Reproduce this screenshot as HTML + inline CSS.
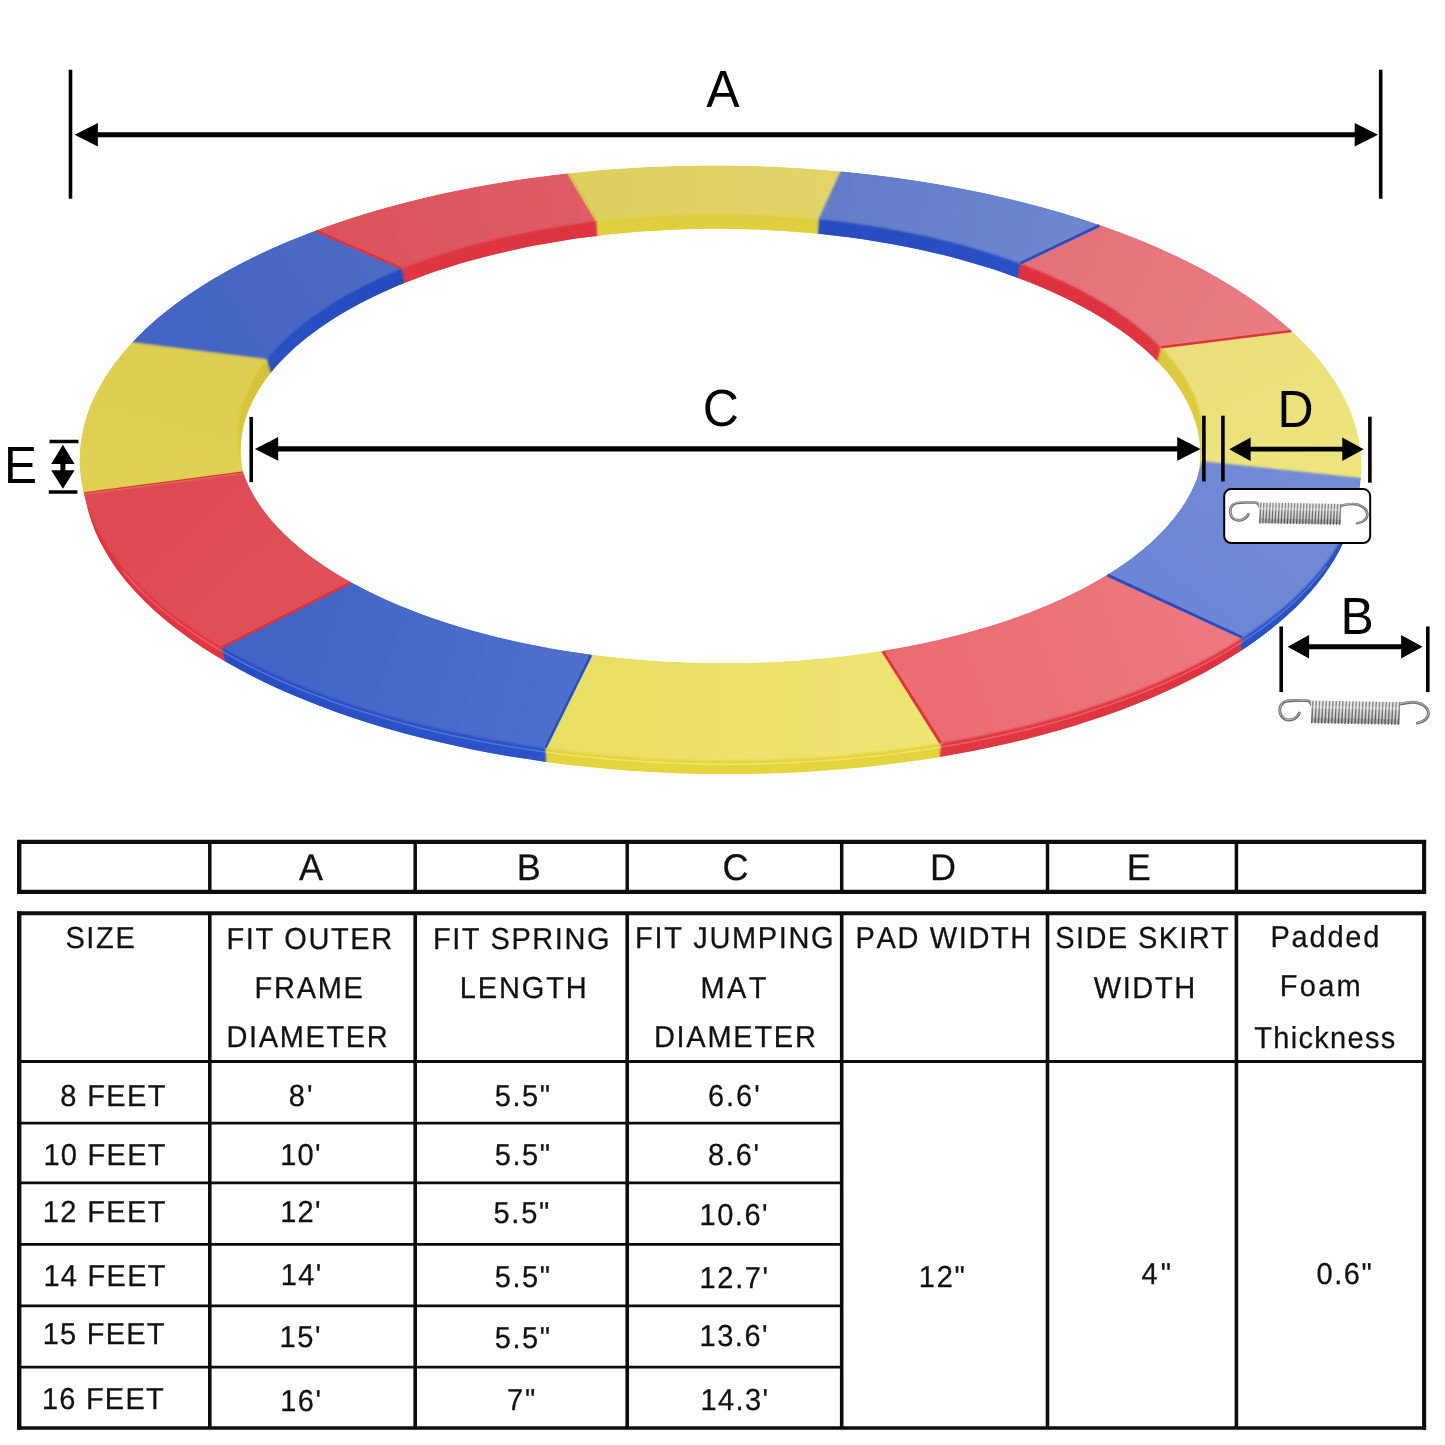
<!DOCTYPE html>
<html><head><meta charset="utf-8"><title>Trampoline pad size chart</title>
<style>
html,body{margin:0;padding:0;background:#fff}
body{width:1445px;height:1445px;position:relative;overflow:hidden;font-family:"Liberation Sans",sans-serif;color:#000}
.dia{position:absolute;left:0;top:0}
.tbl{position:absolute;left:0;top:0;width:1445px;height:1445px;will-change:transform}
.t{position:absolute;white-space:nowrap;color:#111;font-kerning:none;text-rendering:geometricPrecision;-webkit-text-stroke:0.25px #111}
.s29{font-size:29px;line-height:29px;transform:scaleY(1.045);transform-origin:0 23px}
.s36{font-size:36px;line-height:36px;transform:scaleY(1.03);transform-origin:0 30px}
</style></head><body>
<svg class="dia" width="1445" height="1445" viewBox="0 0 1445 1445" font-family="Liberation Sans, sans-serif" fill="#000">
<defs><linearGradient id="g0" gradientUnits="userSpaceOnUse" x1="582.2" y1="197.4" x2="829.8" y2="195.4"><stop offset="0" stop-color="#ded05e"/><stop offset="1" stop-color="#e2d468"/></linearGradient><linearGradient id="w0" gradientUnits="userSpaceOnUse" x1="0" y1="155.4" x2="0" y2="257.4"><stop offset="0" stop-color="#d5c43e"/><stop offset="1" stop-color="#e4d53e"/></linearGradient><linearGradient id="g1" gradientUnits="userSpaceOnUse" x1="829.8" y1="195.4" x2="1059.8" y2="244.4"><stop offset="0" stop-color="#637dca"/><stop offset="1" stop-color="#6d86ce"/></linearGradient><linearGradient id="w1" gradientUnits="userSpaceOnUse" x1="0" y1="155.4" x2="0" y2="304.4"><stop offset="0" stop-color="#2446ba"/><stop offset="1" stop-color="#2c54c8"/></linearGradient><linearGradient id="g2" gradientUnits="userSpaceOnUse" x1="1059.8" y1="244.4" x2="1226.1" y2="339.2"><stop offset="0" stop-color="#e5727b"/><stop offset="1" stop-color="#e97a82"/></linearGradient><linearGradient id="w2" gradientUnits="userSpaceOnUse" x1="0" y1="204.4" x2="0" y2="399.2"><stop offset="0" stop-color="#dd303c"/><stop offset="1" stop-color="#e03842"/></linearGradient><linearGradient id="g3" gradientUnits="userSpaceOnUse" x1="1226.1" y1="339.2" x2="1281.2" y2="469.9"><stop offset="0" stop-color="#eadf7a"/><stop offset="1" stop-color="#eee47e"/></linearGradient><linearGradient id="w3" gradientUnits="userSpaceOnUse" x1="0" y1="299.2" x2="0" y2="529.9"><stop offset="0" stop-color="#d5c43e"/><stop offset="1" stop-color="#e4d53e"/></linearGradient><linearGradient id="g4" gradientUnits="userSpaceOnUse" x1="1281.2" y1="469.9" x2="1175.1" y2="606.3"><stop offset="0" stop-color="#728bd5"/><stop offset="1" stop-color="#6b86d5"/></linearGradient><linearGradient id="w4" gradientUnits="userSpaceOnUse" x1="0" y1="429.9" x2="0" y2="666.3"><stop offset="0" stop-color="#2446ba"/><stop offset="1" stop-color="#2c54c8"/></linearGradient><linearGradient id="g5" gradientUnits="userSpaceOnUse" x1="1175.1" y1="606.3" x2="911.8" y2="697.1"><stop offset="0" stop-color="#ec777e"/><stop offset="1" stop-color="#eb6c73"/></linearGradient><linearGradient id="w5" gradientUnits="userSpaceOnUse" x1="0" y1="566.3" x2="0" y2="757.1"><stop offset="0" stop-color="#dd303c"/><stop offset="1" stop-color="#e03842"/></linearGradient><linearGradient id="g6" gradientUnits="userSpaceOnUse" x1="911.8" y1="697.1" x2="568.1" y2="701.4"><stop offset="0" stop-color="#eee473"/><stop offset="1" stop-color="#eade65"/></linearGradient><linearGradient id="w6" gradientUnits="userSpaceOnUse" x1="0" y1="657.1" x2="0" y2="761.4"><stop offset="0" stop-color="#d5c43e"/><stop offset="1" stop-color="#e4d53e"/></linearGradient><linearGradient id="g7" gradientUnits="userSpaceOnUse" x1="568.1" y1="701.4" x2="286.3" y2="614.7"><stop offset="0" stop-color="#4e6fcd"/><stop offset="1" stop-color="#4365c7"/></linearGradient><linearGradient id="w7" gradientUnits="userSpaceOnUse" x1="0" y1="574.7" x2="0" y2="761.4"><stop offset="0" stop-color="#2446ba"/><stop offset="1" stop-color="#2c54c8"/></linearGradient><linearGradient id="g8" gradientUnits="userSpaceOnUse" x1="286.3" y1="614.7" x2="163.4" y2="482.6"><stop offset="0" stop-color="#e15058"/><stop offset="1" stop-color="#de4a53"/></linearGradient><linearGradient id="w8" gradientUnits="userSpaceOnUse" x1="0" y1="442.6" x2="0" y2="674.7"><stop offset="0" stop-color="#dd303c"/><stop offset="1" stop-color="#e03842"/></linearGradient><linearGradient id="g9" gradientUnits="userSpaceOnUse" x1="163.4" y1="482.6" x2="200.1" y2="350.3"><stop offset="0" stop-color="#e0d152"/><stop offset="1" stop-color="#ddce51"/></linearGradient><linearGradient id="w9" gradientUnits="userSpaceOnUse" x1="0" y1="310.3" x2="0" y2="542.6"><stop offset="0" stop-color="#cdbb38"/><stop offset="1" stop-color="#e4d53e"/></linearGradient><linearGradient id="g10" gradientUnits="userSpaceOnUse" x1="200.1" y1="350.3" x2="359.0" y2="249.6"><stop offset="0" stop-color="#4465c3"/><stop offset="1" stop-color="#4d6bc4"/></linearGradient><linearGradient id="w10" gradientUnits="userSpaceOnUse" x1="0" y1="209.6" x2="0" y2="410.3"><stop offset="0" stop-color="#2446ba"/><stop offset="1" stop-color="#2c54c8"/></linearGradient><linearGradient id="g11" gradientUnits="userSpaceOnUse" x1="359.0" y1="249.6" x2="582.2" y2="197.4"><stop offset="0" stop-color="#dc535d"/><stop offset="1" stop-color="#de5d67"/></linearGradient><linearGradient id="w11" gradientUnits="userSpaceOnUse" x1="0" y1="157.4" x2="0" y2="309.6"><stop offset="0" stop-color="#dd303c"/><stop offset="1" stop-color="#e03842"/></linearGradient><filter id="soft2" x="-2%" y="-2%" width="104%" height="104%"><feGaussianBlur stdDeviation="0.5"/></filter><filter id="soft" x="-2%" y="-2%" width="104%" height="104%" color-interpolation-filters="sRGB"><feGaussianBlur in="SourceGraphic" stdDeviation="1.2" result="b"/><feComposite in="b" in2="SourceAlpha" operator="in"/></filter></defs>
<g id="ring"><g><path d="M568.2 173.9 L581.6 172.5 L595.0 171.3 L608.5 170.1 L622.1 169.2 L635.7 168.3 L649.3 167.6 L662.9 167.0 L676.6 166.6 L690.3 166.3 L704.0 166.1 L717.8 166.1 L731.5 166.2 L745.2 166.4 L758.9 166.8 L772.6 167.3 L786.3 168.0 L799.9 168.8 L813.5 169.7 L827.1 170.8 L840.6 171.9 L840.0 185.1 L826.6 183.9 L813.1 182.8 L799.6 181.9 L786.0 181.1 L772.4 180.4 L758.8 179.9 L745.1 179.5 L731.5 179.3 L717.8 179.2 L704.1 179.2 L690.5 179.4 L676.8 179.7 L663.2 180.1 L649.6 180.7 L636.1 181.4 L622.5 182.3 L609.1 183.3 L595.6 184.4 L582.3 185.6 L569.0 187.0Z" fill="url(#w0)"/>
<path d="M596.2 220.9 L607.1 219.7 L618.1 218.5 L629.1 217.5 L640.2 216.6 L651.3 215.9 L662.4 215.2 L673.6 214.7 L684.8 214.3 L696.0 214.0 L707.2 213.8 L718.5 213.8 L729.7 213.9 L741.0 214.1 L752.2 214.4 L763.4 214.8 L774.6 215.4 L785.7 216.1 L796.8 216.9 L807.9 217.8 L818.9 218.9 L818.1 233.8 L807.2 232.8 L796.2 231.9 L785.2 231.1 L774.1 230.4 L763.0 229.8 L751.9 229.4 L740.8 229.1 L729.6 228.9 L718.5 228.8 L707.4 228.8 L696.2 229.0 L685.1 229.3 L674.0 229.7 L662.9 230.2 L651.9 230.9 L640.8 231.6 L629.9 232.5 L618.9 233.5 L608.1 234.6 L597.3 235.9Z" fill="url(#w0)"/>
<path d="M840.6 171.9 L854.5 173.3 L868.4 174.8 L882.2 176.5 L896.0 178.3 L909.6 180.3 L923.1 182.3 L936.6 184.6 L949.9 186.9 L963.2 189.4 L976.3 192.0 L989.3 194.8 L1002.1 197.7 L1014.8 200.7 L1027.4 203.9 L1039.8 207.2 L1052.0 210.6 L1064.1 214.1 L1076.1 217.8 L1087.8 221.6 L1099.4 225.5 L1097.6 238.7 L1086.1 234.8 L1074.4 231.0 L1062.5 227.3 L1050.5 223.8 L1038.3 220.3 L1026.0 217.0 L1013.4 213.9 L1000.8 210.9 L988.0 207.9 L975.1 205.2 L962.0 202.5 L948.9 200.0 L935.6 197.7 L922.2 195.5 L908.7 193.4 L895.1 191.4 L881.5 189.6 L867.7 188.0 L853.9 186.4 L840.0 185.1Z" fill="url(#w1)"/>
<path d="M818.9 218.9 L829.9 220.0 L840.8 221.3 L851.6 222.7 L862.4 224.2 L873.0 225.8 L883.6 227.5 L894.1 229.4 L904.5 231.4 L914.9 233.4 L925.1 235.6 L935.2 237.9 L945.1 240.3 L955.0 242.8 L964.8 245.4 L974.4 248.1 L983.8 251.0 L993.2 253.9 L1002.3 256.9 L1011.4 260.0 L1020.3 263.2 L1017.8 277.9 L1009.0 274.7 L1000.0 271.6 L990.9 268.6 L981.7 265.7 L972.3 262.9 L962.7 260.2 L953.1 257.6 L943.3 255.1 L933.4 252.7 L923.4 250.5 L913.2 248.3 L903.0 246.2 L892.7 244.3 L882.3 242.5 L871.8 240.7 L861.2 239.1 L850.5 237.6 L839.8 236.2 L829.0 235.0 L818.1 233.8Z" fill="url(#w1)"/>
<path d="M1099.4 225.5 L1111.3 229.7 L1123.0 234.0 L1134.6 238.5 L1145.8 243.1 L1156.9 247.8 L1167.7 252.7 L1178.3 257.6 L1188.6 262.7 L1198.7 267.8 L1208.5 273.1 L1218.0 278.5 L1227.3 284.0 L1236.3 289.5 L1245.0 295.2 L1253.4 301.0 L1261.5 306.8 L1269.4 312.8 L1276.9 318.8 L1284.2 324.9 L1291.1 331.0 L1288.4 344.4 L1281.5 338.2 L1274.3 332.1 L1266.8 326.1 L1259.0 320.1 L1250.9 314.3 L1242.5 308.5 L1233.9 302.8 L1224.9 297.2 L1215.7 291.8 L1206.2 286.4 L1196.4 281.1 L1186.4 275.9 L1176.1 270.8 L1165.6 265.9 L1154.9 261.0 L1143.9 256.3 L1132.6 251.7 L1121.2 247.2 L1109.5 242.9 L1097.6 238.7Z" fill="url(#w2)"/>
<path d="M1020.3 263.2 L1029.2 266.6 L1038.0 270.1 L1046.6 273.7 L1055.0 277.4 L1063.3 281.2 L1071.3 285.1 L1079.1 289.0 L1086.8 293.1 L1094.2 297.2 L1101.4 301.4 L1108.4 305.7 L1115.2 310.0 L1121.7 314.5 L1128.1 319.0 L1134.2 323.5 L1140.0 328.2 L1145.6 332.9 L1151.0 337.6 L1156.2 342.4 L1161.0 347.3 L1157.4 361.4 L1152.6 356.6 L1147.5 351.8 L1142.1 347.1 L1136.5 342.4 L1130.7 337.8 L1124.7 333.3 L1118.4 328.8 L1111.9 324.4 L1105.2 320.1 L1098.3 315.8 L1091.1 311.6 L1083.7 307.5 L1076.2 303.5 L1068.4 299.6 L1060.4 295.7 L1052.3 292.0 L1043.9 288.3 L1035.4 284.7 L1026.7 281.3 L1017.8 277.9Z" fill="url(#w2)"/>
<path d="M1291.1 331.0 L1298.4 337.9 L1305.2 344.8 L1311.7 351.8 L1317.8 358.9 L1323.5 366.1 L1328.8 373.3 L1333.7 380.6 L1338.3 387.9 L1342.4 395.3 L1346.1 402.7 L1349.4 410.1 L1352.2 417.6 L1354.7 425.2 L1356.8 432.7 L1358.4 440.3 L1359.6 447.9 L1360.4 455.5 L1360.8 463.1 L1360.7 470.7 L1360.3 478.2 L1357.3 491.8 L1357.7 484.2 L1357.8 476.6 L1357.4 469.0 L1356.6 461.4 L1355.4 453.8 L1353.8 446.2 L1351.7 438.7 L1349.3 431.1 L1346.4 423.6 L1343.1 416.1 L1339.5 408.7 L1335.4 401.3 L1330.9 394.0 L1326.0 386.7 L1320.7 379.5 L1315.0 372.3 L1308.9 365.2 L1302.5 358.2 L1295.7 351.3 L1288.4 344.4Z" fill="url(#w3)"/>
<path d="M1161.0 347.3 L1166.1 352.7 L1170.9 358.1 L1175.3 363.6 L1179.4 369.1 L1183.3 374.7 L1186.8 380.4 L1190.0 386.0 L1192.9 391.7 L1195.4 397.5 L1197.7 403.2 L1199.6 409.0 L1201.2 414.8 L1202.5 420.7 L1203.4 426.5 L1204.0 432.3 L1204.3 438.2 L1204.3 444.0 L1203.9 449.9 L1203.2 455.7 L1202.2 461.5 L1198.2 474.9 L1199.2 469.1 L1199.9 463.3 L1200.3 457.5 L1200.3 451.7 L1200.0 445.9 L1199.4 440.1 L1198.5 434.3 L1197.2 428.5 L1195.6 422.7 L1193.7 417.0 L1191.5 411.2 L1189.0 405.5 L1186.1 399.9 L1182.9 394.2 L1179.4 388.6 L1175.6 383.1 L1171.5 377.6 L1167.1 372.1 L1162.4 366.7 L1157.4 361.4Z" fill="url(#w3)"/>
<path d="M1360.3 478.2 L1359.3 486.8 L1357.7 495.3 L1355.6 503.8 L1353.0 512.3 L1349.9 520.7 L1346.2 529.1 L1342.0 537.4 L1337.3 545.7 L1332.1 553.9 L1326.4 562.0 L1320.2 570.0 L1313.4 578.0 L1306.2 585.8 L1298.5 593.6 L1290.3 601.2 L1281.7 608.7 L1272.5 616.1 L1262.9 623.4 L1252.9 630.5 L1242.4 637.5 L1240.0 651.4 L1250.4 644.4 L1260.4 637.2 L1269.9 630.0 L1279.0 622.5 L1287.6 615.0 L1295.8 607.4 L1303.5 599.6 L1310.6 591.7 L1317.3 583.8 L1323.5 575.7 L1329.2 567.6 L1334.4 559.4 L1339.1 551.1 L1343.3 542.8 L1346.9 534.4 L1350.0 525.9 L1352.6 517.5 L1354.7 509.0 L1356.3 500.4 L1357.3 491.8Z" fill="url(#w4)"/>
<path d="M1202.2 461.5 L1200.8 467.7 L1199.0 473.8 L1196.9 479.9 L1194.3 486.0 L1191.5 492.0 L1188.3 498.0 L1184.7 503.9 L1180.8 509.8 L1176.5 515.6 L1171.9 521.4 L1166.9 527.1 L1161.6 532.8 L1156.0 538.3 L1150.0 543.9 L1143.8 549.3 L1137.2 554.6 L1130.3 559.9 L1123.0 565.0 L1115.5 570.1 L1107.7 575.1 L1104.5 587.7 L1112.2 582.7 L1119.7 577.7 L1126.9 572.6 L1133.7 567.3 L1140.3 562.0 L1146.5 556.6 L1152.4 551.2 L1158.0 545.6 L1163.2 540.0 L1168.1 534.4 L1172.7 528.6 L1177.0 522.8 L1180.8 517.0 L1184.4 511.1 L1187.6 505.1 L1190.4 499.1 L1192.9 493.1 L1195.0 487.1 L1196.8 481.0 L1198.2 474.9Z" fill="url(#w4)"/>
<path d="M1242.4 637.5 L1231.0 644.7 L1219.2 651.7 L1206.9 658.5 L1194.1 665.1 L1180.9 671.6 L1167.3 677.8 L1153.3 683.9 L1138.9 689.8 L1124.2 695.4 L1109.0 700.9 L1093.5 706.1 L1077.7 711.2 L1061.6 716.0 L1045.1 720.5 L1028.4 724.9 L1011.3 728.9 L994.0 732.8 L976.5 736.4 L958.7 739.8 L940.7 742.9 L939.7 757.0 L957.6 753.8 L975.3 750.5 L992.8 746.8 L1010.0 743.0 L1026.9 738.9 L1043.6 734.5 L1060.0 730.0 L1076.0 725.2 L1091.8 720.1 L1107.2 714.9 L1122.3 709.4 L1137.0 703.7 L1151.3 697.9 L1165.2 691.8 L1178.8 685.5 L1191.9 679.0 L1204.6 672.4 L1216.8 665.6 L1228.6 658.6 L1240.0 651.4Z" fill="url(#w5)"/>
<path d="M1107.7 575.1 L1099.0 580.2 L1090.0 585.3 L1080.7 590.2 L1071.1 595.0 L1061.2 599.7 L1051.0 604.2 L1040.5 608.6 L1029.8 612.9 L1018.8 617.0 L1007.5 620.9 L996.0 624.7 L984.2 628.3 L972.2 631.8 L960.0 635.1 L947.6 638.2 L935.0 641.2 L922.2 644.0 L909.3 646.6 L896.2 649.0 L882.9 651.3 L881.5 663.4 L894.7 661.1 L907.7 658.7 L920.6 656.1 L933.2 653.3 L945.7 650.4 L958.0 647.3 L970.1 644.0 L982.0 640.6 L993.7 637.0 L1005.1 633.2 L1016.3 629.3 L1027.2 625.2 L1037.9 621.0 L1048.3 616.6 L1058.4 612.1 L1068.2 607.5 L1077.8 602.7 L1087.0 597.8 L1095.9 592.8 L1104.5 587.7Z" fill="url(#w5)"/>
<path d="M940.7 742.9 L921.7 745.9 L902.6 748.6 L883.2 751.0 L863.7 753.1 L844.0 755.0 L824.2 756.5 L804.3 757.8 L784.3 758.8 L764.3 759.5 L744.2 759.9 L724.1 760.0 L704.0 759.8 L683.9 759.3 L663.8 758.5 L643.8 757.4 L623.9 756.1 L604.0 754.4 L584.3 752.5 L564.7 750.3 L545.3 747.8 L546.1 761.9 L565.5 764.4 L584.9 766.6 L604.6 768.5 L624.3 770.2 L644.1 771.5 L664.1 772.6 L684.0 773.4 L704.0 773.9 L724.0 774.1 L744.1 774.0 L764.1 773.6 L784.0 772.9 L803.9 771.9 L823.7 770.6 L843.4 769.1 L863.0 767.2 L882.4 765.1 L901.7 762.6 L920.8 759.9 L939.7 757.0Z" fill="url(#w6)"/>
<path d="M882.9 651.3 L868.8 653.5 L854.6 655.4 L840.3 657.2 L825.9 658.7 L811.4 660.1 L796.8 661.2 L782.1 662.1 L767.3 662.9 L752.5 663.4 L737.7 663.7 L722.9 663.8 L708.0 663.6 L693.2 663.3 L678.4 662.8 L663.7 662.0 L649.0 661.0 L634.3 659.9 L619.8 658.5 L605.3 656.9 L590.9 655.1 L592.0 667.1 L606.3 668.9 L620.6 670.5 L635.0 671.9 L649.5 673.1 L664.1 674.0 L678.8 674.8 L693.4 675.3 L708.1 675.6 L722.9 675.8 L737.6 675.7 L752.3 675.4 L766.9 674.9 L781.6 674.2 L796.1 673.2 L810.6 672.1 L825.0 670.8 L839.3 669.2 L853.5 667.5 L867.6 665.5 L881.5 663.4Z" fill="url(#w6)"/>
<path d="M545.3 747.8 L526.5 745.1 L507.8 742.1 L489.3 738.8 L471.1 735.3 L453.0 731.5 L435.3 727.5 L417.8 723.2 L400.6 718.7 L383.7 713.9 L367.1 708.9 L350.8 703.7 L334.9 698.2 L319.4 692.6 L304.2 686.7 L289.5 680.5 L275.1 674.2 L261.2 667.7 L247.7 661.0 L234.6 654.1 L222.0 647.0 L224.4 660.9 L236.9 668.0 L249.9 674.9 L263.3 681.7 L277.2 688.2 L291.5 694.5 L306.2 700.6 L321.3 706.6 L336.7 712.3 L352.6 717.7 L368.7 723.0 L385.2 728.0 L402.1 732.7 L419.2 737.3 L436.6 741.6 L454.3 745.6 L472.2 749.4 L490.4 752.9 L508.8 756.2 L527.4 759.1 L546.1 761.9Z" fill="url(#w7)"/>
<path d="M590.9 655.1 L577.0 653.1 L563.3 651.0 L549.6 648.7 L536.1 646.1 L522.8 643.4 L509.7 640.5 L496.7 637.5 L484.0 634.2 L471.4 630.8 L459.1 627.2 L447.0 623.4 L435.2 619.5 L423.6 615.4 L412.3 611.1 L401.3 606.7 L390.5 602.2 L380.0 597.4 L369.9 592.6 L360.1 587.6 L350.6 582.5 L353.6 595.0 L363.0 600.1 L372.8 605.1 L382.9 609.9 L393.2 614.6 L403.9 619.1 L414.8 623.5 L426.1 627.7 L437.5 631.8 L449.3 635.7 L461.3 639.4 L473.5 643.0 L485.9 646.4 L498.6 649.6 L511.4 652.7 L524.4 655.6 L537.7 658.3 L551.0 660.8 L564.6 663.1 L578.2 665.2 L592.0 667.1Z" fill="url(#w7)"/>
<path d="M222.0 647.0 L210.8 640.3 L200.0 633.5 L189.7 626.5 L179.7 619.4 L170.2 612.2 L161.2 604.9 L152.5 597.4 L144.4 589.9 L136.7 582.2 L129.5 574.4 L122.7 566.6 L116.4 558.6 L110.7 550.6 L105.4 542.5 L100.6 534.4 L96.3 526.2 L92.5 517.9 L89.2 509.6 L86.4 501.3 L84.1 492.9 L87.1 506.6 L89.4 515.0 L92.2 523.3 L95.4 531.7 L99.2 539.9 L103.5 548.1 L108.3 556.3 L113.5 564.4 L119.3 572.4 L125.5 580.4 L132.2 588.2 L139.4 596.0 L147.1 603.7 L155.2 611.3 L163.8 618.7 L172.8 626.1 L182.3 633.3 L192.2 640.4 L202.5 647.4 L213.2 654.2 L224.4 660.9Z" fill="url(#w8)"/>
<path d="M350.6 582.5 L342.2 577.7 L334.2 572.9 L326.4 567.9 L318.9 562.8 L311.7 557.7 L304.8 552.5 L298.2 547.1 L292.0 541.7 L286.0 536.3 L280.4 530.7 L275.1 525.1 L270.1 519.4 L265.5 513.7 L261.2 507.9 L257.2 502.1 L253.6 496.2 L250.3 490.2 L247.4 484.3 L244.8 478.2 L242.6 472.2 L246.5 485.5 L248.7 491.5 L251.3 497.5 L254.2 503.4 L257.5 509.3 L261.1 515.1 L265.0 520.9 L269.3 526.7 L273.9 532.4 L278.8 538.0 L284.0 543.6 L289.6 549.1 L295.5 554.6 L301.7 559.9 L308.3 565.2 L315.1 570.4 L322.2 575.5 L329.6 580.5 L337.3 585.5 L345.3 590.3 L353.6 595.0Z" fill="url(#w8)"/>
<path d="M84.1 492.9 L82.5 485.2 L81.3 477.5 L80.5 469.8 L80.2 462.0 L80.3 454.3 L80.8 446.6 L81.8 438.9 L83.2 431.2 L85.0 423.5 L87.3 415.8 L90.0 408.2 L93.1 400.6 L96.7 393.1 L100.7 385.6 L105.0 378.2 L109.9 370.8 L115.1 363.5 L120.7 356.2 L126.8 349.0 L133.2 341.9 L136.0 355.3 L129.5 362.5 L123.5 369.6 L117.9 376.9 L112.7 384.2 L107.9 391.6 L103.6 399.1 L99.6 406.6 L96.1 414.2 L93.0 421.7 L90.3 429.4 L88.0 437.0 L86.2 444.7 L84.8 452.5 L83.8 460.2 L83.3 467.9 L83.2 475.7 L83.5 483.4 L84.3 491.2 L85.5 498.9 L87.1 506.6Z" fill="url(#w9)"/>
<path d="M242.6 472.2 L240.8 466.5 L239.3 460.8 L238.2 455.0 L237.4 449.2 L236.8 443.5 L236.7 437.7 L236.8 431.9 L237.2 426.2 L238.0 420.4 L239.1 414.7 L240.5 408.9 L242.2 403.2 L244.2 397.5 L246.5 391.9 L249.2 386.3 L252.1 380.7 L255.4 375.1 L259.0 369.6 L262.9 364.1 L267.0 358.7 L270.8 372.7 L266.6 378.1 L262.8 383.6 L259.3 389.0 L256.0 394.6 L253.1 400.1 L250.4 405.7 L248.1 411.3 L246.1 417.0 L244.4 422.6 L243.0 428.3 L242.0 434.0 L241.2 439.8 L240.8 445.5 L240.7 451.2 L240.8 457.0 L241.4 462.7 L242.2 468.4 L243.3 474.1 L244.8 479.8 L246.5 485.5Z" fill="url(#w9)"/>
<path d="M133.2 341.9 L139.5 335.5 L146.1 329.1 L153.0 322.8 L160.2 316.6 L167.8 310.5 L175.6 304.5 L183.8 298.5 L192.3 292.7 L201.1 286.9 L210.2 281.2 L219.6 275.7 L229.2 270.3 L239.2 264.9 L249.4 259.7 L259.9 254.6 L270.6 249.6 L281.6 244.7 L292.9 240.0 L304.4 235.4 L316.1 230.9 L318.0 244.1 L306.3 248.6 L294.9 253.2 L283.7 258.0 L272.7 262.9 L262.0 267.9 L251.6 273.0 L241.4 278.2 L231.5 283.5 L221.9 289.0 L212.6 294.6 L203.5 300.2 L194.8 306.0 L186.3 311.9 L178.2 317.8 L170.4 323.9 L162.8 330.0 L155.6 336.2 L148.7 342.5 L142.2 348.9 L136.0 355.3Z" fill="url(#w10)"/>
<path d="M267.0 358.7 L271.4 353.5 L276.0 348.4 L280.8 343.3 L286.0 338.3 L291.4 333.3 L297.1 328.4 L303.0 323.6 L309.2 318.9 L315.6 314.2 L322.3 309.6 L329.2 305.0 L336.4 300.6 L343.8 296.2 L351.5 292.0 L359.3 287.8 L367.4 283.7 L375.7 279.7 L384.3 275.8 L393.0 272.0 L401.9 268.3 L404.5 283.0 L395.7 286.6 L387.0 290.4 L378.6 294.3 L370.4 298.2 L362.3 302.3 L354.5 306.5 L346.9 310.7 L339.6 315.0 L332.5 319.4 L325.6 323.9 L319.0 328.5 L312.6 333.2 L306.4 337.9 L300.6 342.7 L294.9 347.5 L289.6 352.5 L284.5 357.4 L279.6 362.5 L275.1 367.6 L270.8 372.7Z" fill="url(#w10)"/>
<path d="M316.1 230.9 L327.2 226.8 L338.5 222.9 L350.0 219.1 L361.7 215.4 L373.5 211.8 L385.5 208.4 L397.7 205.1 L410.0 201.9 L422.5 198.8 L435.2 195.8 L448.0 193.0 L460.9 190.4 L473.9 187.8 L487.1 185.4 L500.4 183.2 L513.8 181.0 L527.2 179.0 L540.8 177.2 L554.5 175.5 L568.2 173.9 L569.0 187.0 L555.3 188.6 L541.7 190.3 L528.2 192.2 L514.7 194.2 L501.4 196.3 L488.2 198.6 L475.1 201.0 L462.1 203.5 L449.2 206.2 L436.5 209.0 L423.9 212.0 L411.5 215.0 L399.2 218.2 L387.1 221.6 L375.1 225.0 L363.3 228.6 L351.7 232.3 L340.3 236.1 L329.0 240.1 L318.0 244.1Z" fill="url(#w11)"/>
<path d="M401.9 268.3 L410.4 265.0 L419.0 261.8 L427.7 258.6 L436.6 255.6 L445.7 252.6 L454.9 249.8 L464.3 247.0 L473.8 244.4 L483.4 241.8 L493.1 239.4 L503.0 237.1 L513.0 234.8 L523.0 232.7 L533.2 230.7 L543.5 228.8 L553.9 227.0 L564.4 225.3 L574.9 223.7 L585.5 222.3 L596.2 220.9 L597.3 235.9 L586.7 237.2 L576.1 238.6 L565.7 240.2 L555.3 241.9 L545.0 243.7 L534.8 245.6 L524.7 247.6 L514.7 249.7 L504.8 251.9 L495.0 254.2 L485.3 256.7 L475.8 259.2 L466.4 261.8 L457.1 264.5 L448.0 267.4 L439.0 270.3 L430.1 273.3 L421.5 276.5 L412.9 279.7 L404.5 283.0Z" fill="url(#w11)"/></g>
<g><path d="M568.2 173.9 L581.6 172.5 L595.0 171.3 L608.5 170.1 L622.1 169.2 L635.7 168.3 L649.3 167.6 L662.9 167.0 L676.6 166.6 L690.3 166.3 L704.0 166.1 L717.8 166.1 L731.5 166.2 L745.2 166.4 L758.9 166.8 L772.6 167.3 L786.3 168.0 L799.9 168.8 L813.5 169.7 L827.1 170.8 L840.6 171.9 L818.9 218.9 L807.9 217.8 L796.8 216.9 L785.7 216.1 L774.6 215.4 L763.4 214.8 L752.2 214.4 L741.0 214.1 L729.7 213.9 L718.5 213.8 L707.2 213.8 L696.0 214.0 L684.8 214.3 L673.6 214.7 L662.4 215.2 L651.3 215.9 L640.2 216.6 L629.1 217.5 L618.1 218.5 L607.1 219.7 L596.2 220.9Z" fill="url(#g0)" stroke="url(#g0)" stroke-width="0.6"/>
<path d="M840.6 171.9 L854.5 173.3 L868.4 174.8 L882.2 176.5 L896.0 178.3 L909.6 180.3 L923.1 182.3 L936.6 184.6 L949.9 186.9 L963.2 189.4 L976.3 192.0 L989.3 194.8 L1002.1 197.7 L1014.8 200.7 L1027.4 203.9 L1039.8 207.2 L1052.0 210.6 L1064.1 214.1 L1076.1 217.8 L1087.8 221.6 L1099.4 225.5 L1020.3 263.2 L1011.4 260.0 L1002.3 256.9 L993.2 253.9 L983.8 251.0 L974.4 248.1 L964.8 245.4 L955.0 242.8 L945.1 240.3 L935.2 237.9 L925.1 235.6 L914.9 233.4 L904.5 231.4 L894.1 229.4 L883.6 227.5 L873.0 225.8 L862.4 224.2 L851.6 222.7 L840.8 221.3 L829.9 220.0 L818.9 218.9Z" fill="url(#g1)" stroke="url(#g1)" stroke-width="0.6"/>
<path d="M1099.4 225.5 L1111.3 229.7 L1123.0 234.0 L1134.6 238.5 L1145.8 243.1 L1156.9 247.8 L1167.7 252.7 L1178.3 257.6 L1188.6 262.7 L1198.7 267.8 L1208.5 273.1 L1218.0 278.5 L1227.3 284.0 L1236.3 289.5 L1245.0 295.2 L1253.4 301.0 L1261.5 306.8 L1269.4 312.8 L1276.9 318.8 L1284.2 324.9 L1291.1 331.0 L1161.0 347.3 L1156.2 342.4 L1151.0 337.6 L1145.6 332.9 L1140.0 328.2 L1134.2 323.5 L1128.1 319.0 L1121.7 314.5 L1115.2 310.0 L1108.4 305.7 L1101.4 301.4 L1094.2 297.2 L1086.8 293.1 L1079.1 289.0 L1071.3 285.1 L1063.3 281.2 L1055.0 277.4 L1046.6 273.7 L1038.0 270.1 L1029.2 266.6 L1020.3 263.2Z" fill="url(#g2)" stroke="url(#g2)" stroke-width="0.6"/>
<path d="M1291.1 331.0 L1298.4 337.9 L1305.2 344.8 L1311.7 351.8 L1317.8 358.9 L1323.5 366.1 L1328.8 373.3 L1333.7 380.6 L1338.3 387.9 L1342.4 395.3 L1346.1 402.7 L1349.4 410.1 L1352.2 417.6 L1354.7 425.2 L1356.8 432.7 L1358.4 440.3 L1359.6 447.9 L1360.4 455.5 L1360.8 463.1 L1360.7 470.7 L1360.3 478.2 L1202.2 461.5 L1203.2 455.7 L1203.9 449.9 L1204.3 444.0 L1204.3 438.2 L1204.0 432.3 L1203.4 426.5 L1202.5 420.7 L1201.2 414.8 L1199.6 409.0 L1197.7 403.2 L1195.4 397.5 L1192.9 391.7 L1190.0 386.0 L1186.8 380.4 L1183.3 374.7 L1179.4 369.1 L1175.3 363.6 L1170.9 358.1 L1166.1 352.7 L1161.0 347.3Z" fill="url(#g3)" stroke="url(#g3)" stroke-width="0.6"/>
<path d="M1360.3 478.2 L1359.3 486.8 L1357.7 495.3 L1355.6 503.8 L1353.0 512.3 L1349.9 520.7 L1346.2 529.1 L1342.0 537.4 L1337.3 545.7 L1332.1 553.9 L1326.4 562.0 L1320.2 570.0 L1313.4 578.0 L1306.2 585.8 L1298.5 593.6 L1290.3 601.2 L1281.7 608.7 L1272.5 616.1 L1262.9 623.4 L1252.9 630.5 L1242.4 637.5 L1107.7 575.1 L1115.5 570.1 L1123.0 565.0 L1130.3 559.9 L1137.2 554.6 L1143.8 549.3 L1150.0 543.9 L1156.0 538.3 L1161.6 532.8 L1166.9 527.1 L1171.9 521.4 L1176.5 515.6 L1180.8 509.8 L1184.7 503.9 L1188.3 498.0 L1191.5 492.0 L1194.3 486.0 L1196.9 479.9 L1199.0 473.8 L1200.8 467.7 L1202.2 461.5Z" fill="url(#g4)" stroke="url(#g4)" stroke-width="0.6"/>
<path d="M1242.4 637.5 L1231.0 644.7 L1219.2 651.7 L1206.9 658.5 L1194.1 665.1 L1180.9 671.6 L1167.3 677.8 L1153.3 683.9 L1138.9 689.8 L1124.2 695.4 L1109.0 700.9 L1093.5 706.1 L1077.7 711.2 L1061.6 716.0 L1045.1 720.5 L1028.4 724.9 L1011.3 728.9 L994.0 732.8 L976.5 736.4 L958.7 739.8 L940.7 742.9 L882.9 651.3 L896.2 649.0 L909.3 646.6 L922.2 644.0 L935.0 641.2 L947.6 638.2 L960.0 635.1 L972.2 631.8 L984.2 628.3 L996.0 624.7 L1007.5 620.9 L1018.8 617.0 L1029.8 612.9 L1040.5 608.6 L1051.0 604.2 L1061.2 599.7 L1071.1 595.0 L1080.7 590.2 L1090.0 585.3 L1099.0 580.2 L1107.7 575.1Z" fill="url(#g5)" stroke="url(#g5)" stroke-width="0.6"/>
<path d="M940.7 742.9 L921.7 745.9 L902.6 748.6 L883.2 751.0 L863.7 753.1 L844.0 755.0 L824.2 756.5 L804.3 757.8 L784.3 758.8 L764.3 759.5 L744.2 759.9 L724.1 760.0 L704.0 759.8 L683.9 759.3 L663.8 758.5 L643.8 757.4 L623.9 756.1 L604.0 754.4 L584.3 752.5 L564.7 750.3 L545.3 747.8 L590.9 655.1 L605.3 656.9 L619.8 658.5 L634.3 659.9 L649.0 661.0 L663.7 662.0 L678.4 662.8 L693.2 663.3 L708.0 663.6 L722.9 663.8 L737.7 663.7 L752.5 663.4 L767.3 662.9 L782.1 662.1 L796.8 661.2 L811.4 660.1 L825.9 658.7 L840.3 657.2 L854.6 655.4 L868.8 653.5 L882.9 651.3Z" fill="url(#g6)" stroke="url(#g6)" stroke-width="0.6"/>
<path d="M545.3 747.8 L526.5 745.1 L507.8 742.1 L489.3 738.8 L471.1 735.3 L453.0 731.5 L435.3 727.5 L417.8 723.2 L400.6 718.7 L383.7 713.9 L367.1 708.9 L350.8 703.7 L334.9 698.2 L319.4 692.6 L304.2 686.7 L289.5 680.5 L275.1 674.2 L261.2 667.7 L247.7 661.0 L234.6 654.1 L222.0 647.0 L350.6 582.5 L360.1 587.6 L369.9 592.6 L380.0 597.4 L390.5 602.2 L401.3 606.7 L412.3 611.1 L423.6 615.4 L435.2 619.5 L447.0 623.4 L459.1 627.2 L471.4 630.8 L484.0 634.2 L496.7 637.5 L509.7 640.5 L522.8 643.4 L536.1 646.1 L549.6 648.7 L563.3 651.0 L577.0 653.1 L590.9 655.1Z" fill="url(#g7)" stroke="url(#g7)" stroke-width="0.6"/>
<path d="M222.0 647.0 L210.8 640.3 L200.0 633.5 L189.7 626.5 L179.7 619.4 L170.2 612.2 L161.2 604.9 L152.5 597.4 L144.4 589.9 L136.7 582.2 L129.5 574.4 L122.7 566.6 L116.4 558.6 L110.7 550.6 L105.4 542.5 L100.6 534.4 L96.3 526.2 L92.5 517.9 L89.2 509.6 L86.4 501.3 L84.1 492.9 L242.6 472.2 L244.8 478.2 L247.4 484.3 L250.3 490.2 L253.6 496.2 L257.2 502.1 L261.2 507.9 L265.5 513.7 L270.1 519.4 L275.1 525.1 L280.4 530.7 L286.0 536.3 L292.0 541.7 L298.2 547.1 L304.8 552.5 L311.7 557.7 L318.9 562.8 L326.4 567.9 L334.2 572.9 L342.2 577.7 L350.6 582.5Z" fill="url(#g8)" stroke="url(#g8)" stroke-width="0.6"/>
<path d="M84.1 492.9 L82.5 485.2 L81.3 477.5 L80.5 469.8 L80.2 462.0 L80.3 454.3 L80.8 446.6 L81.8 438.9 L83.2 431.2 L85.0 423.5 L87.3 415.8 L90.0 408.2 L93.1 400.6 L96.7 393.1 L100.7 385.6 L105.0 378.2 L109.9 370.8 L115.1 363.5 L120.7 356.2 L126.8 349.0 L133.2 341.9 L267.0 358.7 L262.9 364.1 L259.0 369.6 L255.4 375.1 L252.1 380.7 L249.2 386.3 L246.5 391.9 L244.2 397.5 L242.2 403.2 L240.5 408.9 L239.1 414.7 L238.0 420.4 L237.2 426.2 L236.8 431.9 L236.7 437.7 L236.8 443.5 L237.4 449.2 L238.2 455.0 L239.3 460.8 L240.8 466.5 L242.6 472.2Z" fill="url(#g9)" stroke="url(#g9)" stroke-width="0.6"/>
<path d="M133.2 341.9 L139.5 335.5 L146.1 329.1 L153.0 322.8 L160.2 316.6 L167.8 310.5 L175.6 304.5 L183.8 298.5 L192.3 292.7 L201.1 286.9 L210.2 281.2 L219.6 275.7 L229.2 270.3 L239.2 264.9 L249.4 259.7 L259.9 254.6 L270.6 249.6 L281.6 244.7 L292.9 240.0 L304.4 235.4 L316.1 230.9 L401.9 268.3 L393.0 272.0 L384.3 275.8 L375.7 279.7 L367.4 283.7 L359.3 287.8 L351.5 292.0 L343.8 296.2 L336.4 300.6 L329.2 305.0 L322.3 309.6 L315.6 314.2 L309.2 318.9 L303.0 323.6 L297.1 328.4 L291.4 333.3 L286.0 338.3 L280.8 343.3 L276.0 348.4 L271.4 353.5 L267.0 358.7Z" fill="url(#g10)" stroke="url(#g10)" stroke-width="0.6"/>
<path d="M316.1 230.9 L327.2 226.8 L338.5 222.9 L350.0 219.1 L361.7 215.4 L373.5 211.8 L385.5 208.4 L397.7 205.1 L410.0 201.9 L422.5 198.8 L435.2 195.8 L448.0 193.0 L460.9 190.4 L473.9 187.8 L487.1 185.4 L500.4 183.2 L513.8 181.0 L527.2 179.0 L540.8 177.2 L554.5 175.5 L568.2 173.9 L596.2 220.9 L585.5 222.3 L574.9 223.7 L564.4 225.3 L553.9 227.0 L543.5 228.8 L533.2 230.7 L523.0 232.7 L513.0 234.8 L503.0 237.1 L493.1 239.4 L483.4 241.8 L473.8 244.4 L464.3 247.0 L454.9 249.8 L445.7 252.6 L436.6 255.6 L427.7 258.6 L419.0 261.8 L410.4 265.0 L401.9 268.3Z" fill="url(#g11)" stroke="url(#g11)" stroke-width="0.6"/></g></g>
<use href="#ring" filter="url(#soft)"/>
<g filter="url(#soft2)"><path d="M1326.4 566.2 L1320.2 574.2 L1313.4 582.2 L1306.2 590.0 L1298.5 597.8 L1290.3 605.4 L1281.7 612.9 L1272.5 620.3 L1262.9 627.6 L1252.9 634.7 L1242.4 641.7" stroke="#5c80e2" stroke-width="1.6" fill="none" opacity="0.75"/>
<path d="M1242.4 641.7 L1231.0 648.9 L1219.2 655.9 L1206.9 662.7 L1194.1 669.3 L1180.9 675.8 L1167.3 682.0 L1153.3 688.1 L1138.9 694.0 L1124.2 699.6 L1109.0 705.1 L1093.5 710.3 L1077.7 715.4 L1061.6 720.2 L1045.1 724.7 L1028.4 729.1 L1011.3 733.1 L994.0 737.0 L976.5 740.6 L958.7 744.0 L940.7 747.1" stroke="#f26870" stroke-width="1.6" fill="none" opacity="0.75"/>
<path d="M940.7 747.1 L921.7 750.1 L902.6 752.8 L883.2 755.2 L863.7 757.3 L844.0 759.2 L824.2 760.7 L804.3 762.0 L784.3 763.0 L764.3 763.7 L744.2 764.1 L724.1 764.2 L704.0 764.0 L683.9 763.5 L663.8 762.7 L643.8 761.6 L623.9 760.3 L604.0 758.6 L584.3 756.7 L564.7 754.5 L545.3 752.0" stroke="#f3e876" stroke-width="1.6" fill="none" opacity="0.75"/>
<path d="M545.3 752.0 L526.5 749.3 L507.8 746.3 L489.3 743.0 L471.1 739.5 L453.0 735.7 L435.3 731.7 L417.8 727.4 L400.6 722.9 L383.7 718.1 L367.1 713.1 L350.8 707.9 L334.9 702.4 L319.4 696.8 L304.2 690.9 L289.5 684.7 L275.1 678.4 L261.2 671.9 L247.7 665.2 L234.6 658.3 L222.0 651.2" stroke="#5c80e2" stroke-width="1.6" fill="none" opacity="0.75"/>
<path d="M222.0 651.2 L210.8 644.5 L200.0 637.7 L189.7 630.7 L179.7 623.6 L170.2 616.4 L161.2 609.1 L152.5 601.6 L144.4 594.1 L136.7 586.4 L129.5 578.6 L122.7 570.8" stroke="#f26870" stroke-width="1.6" fill="none" opacity="0.75"/><path d="M1099.4 225.5 L1020.3 263.2" stroke="#284ec4" stroke-width="2.8" fill="none"/>
<path d="M1291.1 331.0 L1161.0 347.3" stroke="#de343e" stroke-width="2.4" fill="none"/>
<path d="M1242.4 637.5 L1107.7 575.1" stroke="#284ec4" stroke-width="3.0" fill="none"/>
<path d="M940.7 742.9 L882.9 651.3" stroke="#de343e" stroke-width="3.0" fill="none"/>
<path d="M545.3 747.8 L590.9 655.1" stroke="#284ec4" stroke-width="2.6" fill="none"/>
<path d="M222.0 647.0 L350.6 582.5" stroke="#de343e" stroke-width="2.4" fill="none"/>
<path d="M316.1 230.9 L401.9 268.3" stroke="#de343e" stroke-width="2.4" fill="none"/>
<path d="M568.2 173.9 L596.2 220.9" stroke="#d6c63e" stroke-width="1.4" fill="none"/>
<path d="M84.1 492.9 L242.6 472.2" stroke="#de343e" stroke-width="1.2" fill="none"/></g>
<g><path d="M70.5 69.8 V198.8" stroke="#000" stroke-width="3.6"/>
<path d="M1380.7 69.8 V198.8" stroke="#000" stroke-width="3.6"/>
<path d="M96.9 134.8 H1355.7" stroke="#000" stroke-width="4.9"/><path d="M74.6 134.8 L97.9 123.0 L97.9 146.6 Z"/><path d="M1378.0 134.8 L1354.7 123.0 L1354.7 146.6 Z"/>
<path d="M251.2 417.0 V482.1" stroke="#000" stroke-width="3.6"/>
<path d="M1203.9 415.7 V481.5" stroke="#000" stroke-width="3.6"/>
<path d="M277.2 448.9 H1178.2" stroke="#000" stroke-width="5.2"/><path d="M254.9 448.9 L278.2 437.1 L278.2 460.7 Z"/><path d="M1200.5 448.9 L1177.2 437.1 L1177.2 460.7 Z"/>
<path d="M1222.9 415.7 V481.5" stroke="#000" stroke-width="3.6"/>
<path d="M1369.9 416.7 V482.7" stroke="#000" stroke-width="3.6"/>
<path d="M1249.6 449.2 H1343.3" stroke="#000" stroke-width="4.8"/><path d="M1229.2 449.2 L1250.6 437.4 L1250.6 460.9 Z"/><path d="M1363.7 449.2 L1342.3 437.4 L1342.3 460.9 Z"/>
<path d="M1281.2 626.5 V692.1" stroke="#000" stroke-width="3.6"/>
<path d="M1427.8 626.5 V692.1" stroke="#000" stroke-width="3.6"/>
<path d="M1308.1 646.8 H1402.1" stroke="#000" stroke-width="4.9"/><path d="M1287.6 646.8 L1309.1 635.1 L1309.1 658.4 Z"/><path d="M1422.6 646.8 L1401.1 635.1 L1401.1 658.4 Z"/>
<path d="M49.5 441.5H78.4M48.8 491.9H77.4" stroke="#000" stroke-width="3.5"/>
<path d="M62.9 444.7L74.6 464H51.2Z M62.9 488.7L74.6 470.2H51.2Z"/><path d="M62.9 460V474" stroke="#000" stroke-width="5"/></g>
<g><text transform="translate(723.0 107.1) scale(1 1.035)" font-size="50.0" text-anchor="middle">A</text>
<text transform="translate(720.7 426.0) scale(1 1.020)" font-size="50.0" text-anchor="middle">C</text>
<text transform="translate(1295.5 427.0) scale(1 1.035)" font-size="50.0" text-anchor="middle">D</text>
<text transform="translate(1357.2 634.0) scale(1 1.035)" font-size="50.0" text-anchor="middle">B</text>
<text transform="translate(20.6 483.2) scale(1 1.035)" font-size="49.5" text-anchor="middle">E</text></g>
<g><defs><linearGradient id="cbg" x1="0" y1="0" x2="0" y2="1"><stop offset="0" stop-color="#ececec"/><stop offset="1" stop-color="#c6c6c6"/></linearGradient><linearGradient id="cln" gradientUnits="userSpaceOnUse" x1="0" y1="0" x2="0" y2="25"><stop offset="0" stop-color="#8c8c8c"/><stop offset="1" stop-color="#585858"/></linearGradient></defs>
<rect x="1224.2" y="489.1" width="146" height="53.9" rx="7" ry="7" fill="#fff" stroke="#000" stroke-width="2"/>
<g transform="translate(1229.0 501.6) scale(0.922)" fill="none" stroke-linecap="round"><path d="M21 13.5 C19 19 12 22 6.5 19.5 C0.5 16.5 -0.5 7 5 3 C9 0.3 14 1 22 1 L28 1 C31 1 32.5 3 33.5 6" stroke="#6e6e6e" stroke-width="2.9"/><path d="M21 13.5 C19 19 12 22 6.5 19.5 C0.5 16.5 -0.5 7 5 3 C9 0.3 14 1 22 1 L28 1 C31 1 32.5 3 33.5 6" stroke="#bdbdbd" stroke-width="1.0" transform="translate(0 -0.3)"/><path d="M121 4.5 C126 3.5 130 2.6 134 2.6 C143 2.6 150 8 150 14 C150 19 145 22.5 139 23.5" stroke="#6e6e6e" stroke-width="2.9"/><path d="M121 4.5 C126 3.5 130 2.6 134 2.6 C143 2.6 150 8 150 14 C150 19 145 22.5 139 23.5" stroke="#bdbdbd" stroke-width="1.0" transform="translate(0 -0.3)"/><path d="M32.6 1.2 L121.4 2.7 L121.4 24.6 L32.6 23.1 Z" fill="url(#cbg)" stroke="none"/><path d="M34.60 1.00 L33.30 23.70 M37.93 1.06 L36.63 23.76 M41.26 1.12 L39.96 23.82 M44.59 1.17 L43.29 23.87 M47.92 1.23 L46.62 23.93 M51.25 1.29 L49.95 23.99 M54.58 1.35 L53.28 24.05 M57.92 1.40 L56.62 24.10 M61.25 1.46 L59.95 24.16 M64.58 1.52 L63.28 24.22 M67.91 1.58 L66.61 24.28 M71.24 1.63 L69.94 24.33 M74.57 1.69 L73.27 24.39 M77.90 1.75 L76.60 24.45 M81.23 1.81 L79.93 24.51 M84.56 1.87 L83.26 24.57 M87.89 1.92 L86.59 24.62 M91.22 1.98 L89.92 24.68 M94.55 2.04 L93.25 24.74 M97.88 2.10 L96.58 24.80 M101.22 2.15 L99.92 24.85 M104.55 2.21 L103.25 24.91 M107.88 2.27 L106.58 24.97 M111.21 2.33 L109.91 25.03 M114.54 2.38 L113.24 25.08 M117.87 2.44 L116.57 25.14 M121.20 2.50 L119.90 25.20" stroke="url(#cln)" stroke-width="1.4" stroke-linecap="butt"/><path d="M33 7.5 L121 9" stroke="#fff" stroke-width="3" opacity="0.28" stroke-linecap="butt"/><path d="M33 20.5 L121 22" stroke="#444" stroke-width="4.5" opacity="0.2" stroke-linecap="butt"/></g>
<g transform="translate(1278.4 699.6) scale(1.000)" fill="none" stroke-linecap="round"><path d="M21 13.5 C19 19 12 22 6.5 19.5 C0.5 16.5 -0.5 7 5 3 C9 0.3 14 1 22 1 L28 1 C31 1 32.5 3 33.5 6" stroke="#6e6e6e" stroke-width="2.9"/><path d="M21 13.5 C19 19 12 22 6.5 19.5 C0.5 16.5 -0.5 7 5 3 C9 0.3 14 1 22 1 L28 1 C31 1 32.5 3 33.5 6" stroke="#bdbdbd" stroke-width="1.0" transform="translate(0 -0.3)"/><path d="M121 4.5 C126 3.5 130 2.6 134 2.6 C143 2.6 150 8 150 14 C150 19 145 22.5 139 23.5" stroke="#6e6e6e" stroke-width="2.9"/><path d="M121 4.5 C126 3.5 130 2.6 134 2.6 C143 2.6 150 8 150 14 C150 19 145 22.5 139 23.5" stroke="#bdbdbd" stroke-width="1.0" transform="translate(0 -0.3)"/><path d="M32.6 1.2 L121.4 2.7 L121.4 24.6 L32.6 23.1 Z" fill="url(#cbg)" stroke="none"/><path d="M34.60 1.00 L33.30 23.70 M37.93 1.06 L36.63 23.76 M41.26 1.12 L39.96 23.82 M44.59 1.17 L43.29 23.87 M47.92 1.23 L46.62 23.93 M51.25 1.29 L49.95 23.99 M54.58 1.35 L53.28 24.05 M57.92 1.40 L56.62 24.10 M61.25 1.46 L59.95 24.16 M64.58 1.52 L63.28 24.22 M67.91 1.58 L66.61 24.28 M71.24 1.63 L69.94 24.33 M74.57 1.69 L73.27 24.39 M77.90 1.75 L76.60 24.45 M81.23 1.81 L79.93 24.51 M84.56 1.87 L83.26 24.57 M87.89 1.92 L86.59 24.62 M91.22 1.98 L89.92 24.68 M94.55 2.04 L93.25 24.74 M97.88 2.10 L96.58 24.80 M101.22 2.15 L99.92 24.85 M104.55 2.21 L103.25 24.91 M107.88 2.27 L106.58 24.97 M111.21 2.33 L109.91 25.03 M114.54 2.38 L113.24 25.08 M117.87 2.44 L116.57 25.14 M121.20 2.50 L119.90 25.20" stroke="url(#cln)" stroke-width="1.4" stroke-linecap="butt"/><path d="M33 7.5 L121 9" stroke="#fff" stroke-width="3" opacity="0.28" stroke-linecap="butt"/><path d="M33 20.5 L121 22" stroke="#444" stroke-width="4.5" opacity="0.2" stroke-linecap="butt"/></g></g>
<g stroke="#0d0d0d" fill="none"><path d="M17.0 841.85H1426.1" stroke-width="4.1"/><path d="M17.0 891.90H1426.1" stroke-width="4.3"/><path d="M19.20 840.0V894.0" stroke-width="4.4"/><path d="M1424.10 840.0V894.0" stroke-width="4.1"/><path d="M209.80 841.0V893.0" stroke-width="3.5"/><path d="M415.20 841.0V893.0" stroke-width="3.5"/><path d="M627.20 841.0V893.0" stroke-width="3.5"/><path d="M841.70 841.0V893.0" stroke-width="3.5"/><path d="M1047.50 841.0V893.0" stroke-width="3.5"/><path d="M1236.40 841.0V893.0" stroke-width="3.5"/><path d="M17.0 913.30H1426.1" stroke-width="3.9"/><path d="M17.0 1428.00H1426.1" stroke-width="3.7"/><path d="M19.2 1061.45H1424.1" stroke-width="2.9"/><path d="M19.20 911.4V1429.8" stroke-width="4.4"/><path d="M1424.10 911.4V1429.8" stroke-width="4.1"/><path d="M209.80 912.0V1429.0" stroke-width="3.6"/><path d="M415.20 912.0V1429.0" stroke-width="3.6"/><path d="M627.20 912.0V1429.0" stroke-width="3.6"/><path d="M841.70 912.0V1429.0" stroke-width="3.6"/><path d="M1047.50 912.0V1429.0" stroke-width="3.6"/><path d="M1236.40 912.0V1429.0" stroke-width="3.6"/><path d="M19.2 1123.20H841.7" stroke-width="2.8"/><path d="M19.2 1182.90H841.7" stroke-width="2.8"/><path d="M19.2 1244.40H841.7" stroke-width="2.8"/><path d="M19.2 1305.90H841.7" stroke-width="2.8"/><path d="M19.2 1367.20H841.7" stroke-width="2.8"/></g>
</svg>
<div class="tbl">
<div class="t s36" style="left:298.94px;top:850px;letter-spacing:0.00px">A</div>
<div class="t s36" style="left:516.67px;top:850px;letter-spacing:0.00px">B</div>
<div class="t s36" style="left:722.57px;top:850px;letter-spacing:0.00px">C</div>
<div class="t s36" style="left:929.99px;top:850px;letter-spacing:0.00px">D</div>
<div class="t s36" style="left:1126.69px;top:850px;letter-spacing:0.00px">E</div>
<div class="t s29" style="left:65.38px;top:925px;letter-spacing:1.64px">SIZE</div>
<div class="t s29" style="left:226.52px;top:926px;letter-spacing:1.57px">FIT OUTER</div>
<div class="t s29" style="left:254.62px;top:975px;letter-spacing:1.71px">FRAME</div>
<div class="t s29" style="left:226.52px;top:1024px;letter-spacing:1.63px">DIAMETER</div>
<div class="t s29" style="left:432.92px;top:926px;letter-spacing:1.54px">FIT SPRING</div>
<div class="t s29" style="left:459.82px;top:975px;letter-spacing:1.84px">LENGTH</div>
<div class="t s29" style="left:635.12px;top:925px;letter-spacing:1.65px">FIT JUMPING</div>
<div class="t s29" style="left:700.52px;top:975px;letter-spacing:2.32px">MAT</div>
<div class="t s29" style="left:653.92px;top:1024px;letter-spacing:1.73px">DIAMETER</div>
<div class="t s29" style="left:855.52px;top:925px;letter-spacing:1.63px">PAD WIDTH</div>
<div class="t s29" style="left:1055.28px;top:925px;letter-spacing:1.38px">SIDE SKIRT</div>
<div class="t s29" style="left:1093.67px;top:975px;letter-spacing:1.62px">WIDTH</div>
<div class="t s29" style="left:1270.42px;top:924px;letter-spacing:1.81px">Padded</div>
<div class="t s29" style="left:1279.82px;top:973px;letter-spacing:2.25px">Foam</div>
<div class="t s29" style="left:1254.35px;top:1025px;letter-spacing:1.29px">Thickness</div>
<div class="t s29" style="left:60.24px;top:1083px;letter-spacing:1.39px">8 FEET</div>
<div class="t s29" style="left:43.49px;top:1142px;letter-spacing:1.26px">10 FEET</div>
<div class="t s29" style="left:42.69px;top:1199px;letter-spacing:1.39px">12 FEET</div>
<div class="t s29" style="left:43.49px;top:1263px;letter-spacing:1.26px">14 FEET</div>
<div class="t s29" style="left:42.69px;top:1321px;letter-spacing:1.24px">15 FEET</div>
<div class="t s29" style="left:41.89px;top:1386px;letter-spacing:1.24px">16 FEET</div>
<div class="t s29" style="left:288.64px;top:1083px;letter-spacing:2.35px">8'</div>
<div class="t s29" style="left:280.19px;top:1142px;letter-spacing:1.24px">10'</div>
<div class="t s29" style="left:280.19px;top:1199px;letter-spacing:1.24px">12'</div>
<div class="t s29" style="left:280.79px;top:1262px;letter-spacing:1.34px">14'</div>
<div class="t s29" style="left:279.39px;top:1324px;letter-spacing:1.64px">15'</div>
<div class="t s29" style="left:280.19px;top:1388px;letter-spacing:1.49px">16'</div>
<div class="t s29" style="left:494.74px;top:1083px;letter-spacing:1.59px">5.5&quot;</div>
<div class="t s29" style="left:494.74px;top:1142px;letter-spacing:1.59px">5.5&quot;</div>
<div class="t s29" style="left:493.44px;top:1200px;letter-spacing:1.79px">5.5&quot;</div>
<div class="t s29" style="left:494.74px;top:1264px;letter-spacing:1.59px">5.5&quot;</div>
<div class="t s29" style="left:494.74px;top:1325px;letter-spacing:1.59px">5.5&quot;</div>
<div class="t s29" style="left:506.91px;top:1387px;letter-spacing:1.90px">7&quot;</div>
<div class="t s29" style="left:708.03px;top:1083px;letter-spacing:1.96px">6.6'</div>
<div class="t s29" style="left:707.94px;top:1142px;letter-spacing:1.79px">8.6'</div>
<div class="t s29" style="left:699.59px;top:1202px;letter-spacing:1.50px">10.6'</div>
<div class="t s29" style="left:699.59px;top:1265px;letter-spacing:1.65px">12.7'</div>
<div class="t s29" style="left:699.59px;top:1323px;letter-spacing:1.50px">13.6'</div>
<div class="t s29" style="left:700.49px;top:1387px;letter-spacing:1.42px">14.3'</div>
<div class="t s29" style="left:918.79px;top:1264px;letter-spacing:1.74px">12&quot;</div>
<div class="t s29" style="left:1141.53px;top:1261px;letter-spacing:3.17px">4&quot;</div>
<div class="t s29" style="left:1316.47px;top:1261px;letter-spacing:1.59px">0.6&quot;</div>
</div>
</body></html>
